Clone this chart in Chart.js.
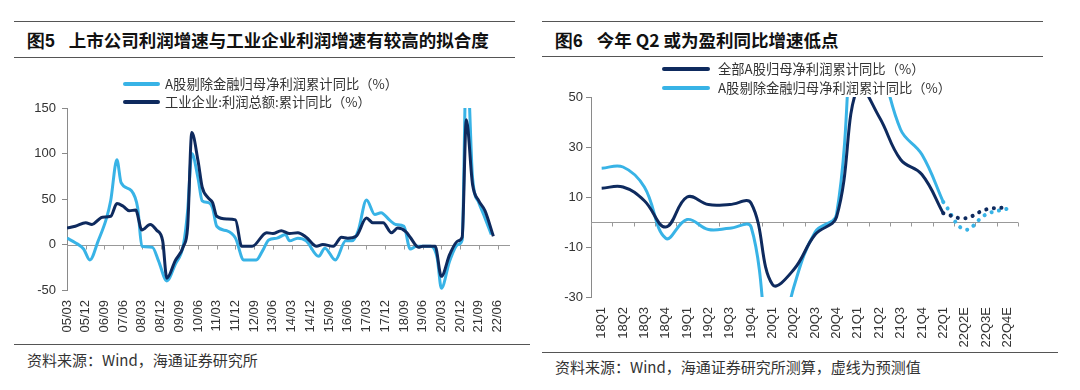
<!DOCTYPE html>
<html>
<head>
<meta charset="utf-8">
<script src="https://cdn.jsdelivr.net/npm/chart.js@4"></script>
<style>
  body { margin: 0; width: 1080px; height: 390px; background: #fff; position: relative; overflow: hidden;
         font-family: "Noto Sans CJK SC", "Liberation Sans", sans-serif; }
  .rule { position: absolute; height: 0; border-top: 1px solid #555; }
  .title { position: absolute; font-size: 17.5px; font-weight: bold; color: #111; line-height: 22px; white-space: nowrap; }
  .title .num { font-family: "Liberation Sans", Arial, sans-serif; }
  .src { position: absolute; font-size: 15px; color: #333; line-height: 18px; white-space: nowrap; }
  .leg { position: absolute; font-size: 13.3px; color: #333; line-height: 16px; white-space: nowrap; }
  .leg i { position: absolute; height: 4px; border-radius: 2px; }
  canvas { position: absolute; }
</style>
</head>
<body>
<div class="rule" style="left:14px;width:501px;top:21px"></div>
<div class="rule" style="left:14px;width:501px;top:57px"></div>
<div class="title" style="left:27px;top:29px"><span class="num">图5</span><span style="margin-left:14px">上市公司利润增速与工业企业利润增速有较高的拟合度</span></div>
<div class="rule" style="left:542px;width:501px;top:21px"></div>
<div class="rule" style="left:542px;width:501px;top:56px"></div>
<div class="title" style="left:555px;top:29px"><span class="num">图6</span><span style="margin-left:14px">今年 Q2 或为盈利同比增速低点</span></div>

<canvas id="left" width="540" height="280" style="left:0;top:60px"></canvas>
<canvas id="right" width="540" height="287" style="left:540px;top:60px"></canvas>
<div id="legL"></div>
<div id="legR"></div>

<div class="rule" style="left:14px;width:516px;top:344px"></div>
<div class="src" style="left:27px;top:351px">资料来源：Wind，海通证券研究所</div>
<div class="rule" style="left:542px;width:516px;top:352px"></div>
<div class="src" style="left:555px;top:358px">资料来源：Wind，海通证券研究所测算，虚线为预测值</div>

<script>
const light = '#38b3e6';
const dark = '#0e2a5e';

// 图5：月度，yy/mm
const tickLabels5 = ['05/03','05/12','06/09','07/06','08/03','08/12','09/09','10/06','11/03','11/12','12/09','13/06',
  '14/03','14/12','15/09','16/06','17/03','17/12','18/09','19/06','20/03','20/12','21/09','22/06'];
const axisEnd5 = '22/12';

const listedMonths = ['05/03','05/07','05/11','06/02','06/06','06/10','06/12','07/03','07/05','07/10',
  '08/01','08/03','08/08','08/11','09/03','09/07','09/11','10/01','10/03','10/06',
  '10/08','10/11','11/01','11/03','11/08','11/12','12/04','12/10','13/01','13/04',
  '13/08','13/12','14/02','14/06','14/10','15/04','15/07','15/12','16/05','16/08',
  '16/11','17/03','17/07','17/10','18/02','18/05','18/09','18/12','19/03','19/10',
  '20/01','20/03','20/07','20/11','21/01','21/03','21/04','21/06','21/09','21/12','22/03'];
const listedProfit = [7,2,-5,-17,4,29,48,93,68,59,
  40,-2,-3,-18,-40,-22,0,37,100,73,
  48,46,40,20,15,7,-17,-17,-7,5,
  7,11,4,7,4,-13,-4,-17,4,4,
  15,49,33,35,27,22,20,-5,-2,-2,
  -15,-48,-18,0,5,200,180,73,46,29,11];

const industryMonths = ['05/03','05/07','05/12','06/03','06/06','06/08','06/12','07/03','07/06','07/09',
  '07/12','08/03','08/07','08/10','09/01','09/03','09/07','09/11','10/01','10/03',
  '10/06','10/08','10/11','11/01','11/03','11/08','11/12','12/03','12/08','13/03',
  '13/06','13/10','14/02','14/06','14/10','15/03','15/06','15/11','16/03','16/06',
  '16/10','17/03','17/06','17/11','18/03','18/06','18/10','18/12','19/04','19/06',
  '19/12','20/03','20/07','20/11','21/01','21/03','21/06','21/09','21/12','22/04'];
const industryProfit = [18,20,24,22,27,30,31,45,42,37,
  38,16,22,16,4,-37,-18,-2,19,123,
  92,63,51,46,31,28,27,-2,-2,13,
  12,15,12,13,8,-2,0,-2,8,7,
  9,29,24,24,13,18,14,8,-3,-2,
  -2,-35,-11,4,8,137,66,48,37,9];

// 图6：季度
const quarters = ['18Q1','18Q2','18Q3','18Q4','19Q1','19Q2','19Q3','19Q4','20Q1','20Q2',
  '20Q3','20Q4','21Q1','21Q2','21Q3','21Q4','22Q1','22Q2E','22Q3E','22Q4E'];
const allA = [13.5,14,8.5,-2,10,7,7,7.5,-25,-19,-5,2,54,42,25,19,3.5];
const nonFin = [21.5,22,14,-6.5,1,-3,-2.5,-2,-60,-26,-4,3,100,68,37,27,8];
const allAFcst = [3.5,1.5,5,5.8];      // 22Q1 起
const nonFinFcst = [8,-3,3,5.3];

const legend5 = ['A股剔除金融归母净利润累计同比（%）', '工业企业:利润总额:累计同比（%）'];
const legend6 = ['全部A股归母净利润累计同比（%）', 'A股剔除金融归母净利润累计同比（%）'];

function monthIdx(s) {
  const [yy, mm] = s.split('/').map(Number);
  return (yy - 5) * 12 + (mm - 3);
}
function toPoints(months, vals) {
  return months.map((m, i) => ({ x: monthIdx(m), y: vals[i] }));
}
function pad(arr, before, total) {
  const out = new Array(before).fill(null).concat(arr);
  while (out.length < total) out.push(null);
  return out;
}

function makeLegend(id, items, colors, lineX, lineW, textX, ys) {
  const box = document.getElementById(id);
  items.forEach((t, i) => {
    const d = document.createElement('div');
    d.className = 'leg';
    d.style.left = textX + 'px';
    d.style.top = (ys[i] - 8) + 'px';
    d.textContent = t;
    const l = document.createElement('i');
    l.style.left = (lineX - textX) + 'px';
    l.style.width = lineW + 'px';
    l.style.top = '6px';
    l.style.background = colors[i];
    d.appendChild(l);
    box.appendChild(d);
  });
}
makeLegend('legL', legend5, [light, dark], 123, 37, 165, [84, 102]);
makeLegend('legR', legend6, [dark, light], 662, 48, 718, [69, 88]);

const zeroAxis = {
  id: 'zeroAxis',
  beforeDatasetsDraw(chart, args, opts) {
    const { ctx, chartArea, scales: { x, y } } = chart;
    const y0 = Math.round(y.getPixelForValue(0)) + 0.5;
    let marks;
    if (opts.between) {
      marks = [];
      for (let i = 0; i <= x.ticks.length; i++) marks.push(x.getPixelForValue(i - 0.5));
    } else {
      marks = x.ticks.map(t => x.getPixelForValue(t.value));
    }
    ctx.save();
    ctx.strokeStyle = '#999';
    ctx.lineWidth = 1;
    ctx.beginPath();
    ctx.moveTo(chartArea.left, y0);
    ctx.lineTo(chartArea.right, y0);
    marks.forEach(px => {
      px = Math.round(px) + 0.5;
      ctx.moveTo(px, y0);
      ctx.lineTo(px, y0 + 4);
    });
    ctx.stroke();
    ctx.restore();
  }
};

Chart.defaults.font.family = "'Liberation Sans', Arial, sans-serif";
Chart.defaults.font.size = 13;
Chart.defaults.color = '#333';

const yAxisBase = {
  grid: { drawOnChartArea: false, tickLength: 5, color: '#8a8a8a' },
  border: { color: '#8a8a8a' }
};

new Chart(document.getElementById('left'), {
  type: 'line',
  data: {
    datasets: [
      { label: legend5[0], data: toPoints(listedMonths, listedProfit), borderColor: light,
        borderWidth: 3, pointRadius: 0, cubicInterpolationMode: 'monotone', clip: 0, order: 2 },
      { label: legend5[1], data: toPoints(industryMonths, industryProfit), borderColor: dark,
        borderWidth: 3, pointRadius: 0, cubicInterpolationMode: 'monotone', clip: 0, order: 1 }
    ]
  },
  options: {
    responsive: false,
    animation: false,
    devicePixelRatio: 1,
    layout: { padding: { left: 0, top: 48, right: 30, bottom: 0 } },
    plugins: { legend: { display: false }, tooltip: { enabled: false }, zeroAxis: {} },
    scales: {
      x: {
        type: 'linear', min: 0, max: monthIdx(axisEnd5),
        afterBuildTicks: s => { s.ticks = tickLabels5.map(l => ({ value: monthIdx(l), label: l })); },
        ticks: { autoSkip: false, minRotation: 90, maxRotation: 90, padding: 10,
          callback: v => tickLabels5.find(l => monthIdx(l) === v) || '' },
        grid: { display: false, drawTicks: false },
        border: { display: false },
        afterFit: s => { s.height = 50; }
      },
      y: Object.assign({}, yAxisBase, {
        min: -50, max: 150,
        ticks: { stepSize: 50, padding: 6 },
        afterFit: s => { s.width = 67; }
      })
    }
  },
  plugins: [zeroAxis]
});

const N = quarters.length;
new Chart(document.getElementById('right'), {
  type: 'line',
  data: {
    labels: quarters,
    datasets: [
      { label: legend6[0], data: pad(allA, 0, N), borderColor: dark, borderWidth: 3,
        pointRadius: 0, tension: 0.4, clip: 0, order: 1 },
      { label: legend6[1], data: pad(nonFin, 0, N), borderColor: light, borderWidth: 3,
        pointRadius: 0, tension: 0.4, clip: 0, order: 2 },
      { label: legend6[0] + ' E', data: pad(allAFcst, allA.length - 1, N), borderColor: dark, borderWidth: 4,
        borderDash: [0.1, 7.5], borderCapStyle: 'round', pointRadius: 0, tension: 0.4, clip: 0, order: 1 },
      { label: legend6[1] + ' E', data: pad(nonFinFcst, nonFin.length - 1, N), borderColor: light, borderWidth: 4,
        borderDash: [0.1, 7.5], borderCapStyle: 'round', pointRadius: 0, tension: 0.4, clip: 0, order: 2 }
    ]
  },
  options: {
    responsive: false,
    animation: false,
    devicePixelRatio: 1,
    layout: { padding: { left: 0, top: 37, right: 62, bottom: 0 } },
    plugins: { legend: { display: false }, tooltip: { enabled: false }, zeroAxis: { between: true } },
    scales: {
      x: {
        type: 'category', offset: true,
        ticks: { autoSkip: false, minRotation: 90, maxRotation: 90, padding: 10 },
        grid: { display: false, drawTicks: false },
        border: { display: false },
        afterFit: s => { s.height = 50; }
      },
      y: Object.assign({}, yAxisBase, {
        min: -30, max: 50,
        ticks: { stepSize: 20, padding: 3 },
        afterFit: s => { s.width = 51; }
      })
    }
  },
  plugins: [zeroAxis]
});
</script>
</body>
</html>
